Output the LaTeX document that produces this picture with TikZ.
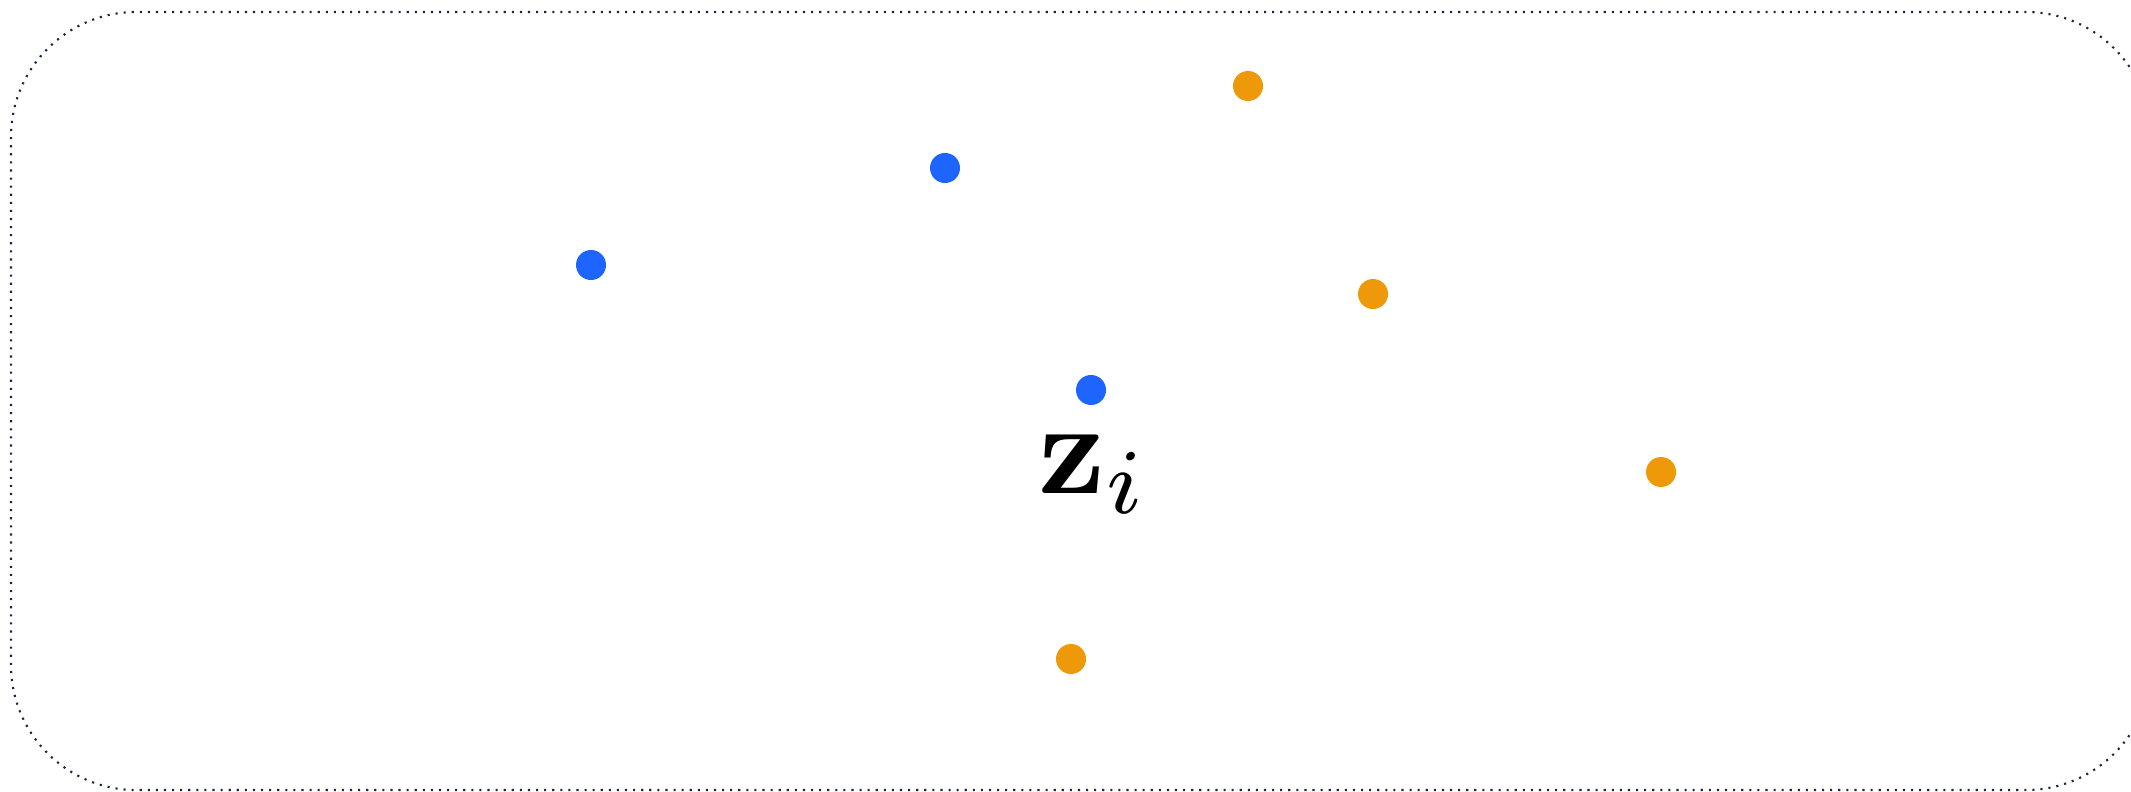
\documentclass[tikz,border=0pt]{standalone}
\usepackage{amsmath,amssymb}
\usepackage{tikz}
\usetikzlibrary{positioning}
\definecolor{ptblue}{RGB}{30,100,255}
\definecolor{ptorange}{RGB}{237,153,10}
\definecolor{framenavy}{RGB}{30,36,64}
\begin{document}
\begin{tikzpicture}[x=0.01cm, y=-0.01cm,
    bluept/.style={circle, fill=ptblue, minimum size=0.3cm, inner sep=0pt},
    orangept/.style={circle, fill=ptorange, minimum size=0.3cm, inner sep=0pt}]
    \useasboundingbox (0,0) rectangle (2131,791);
    \clip (0,0) rectangle (2131,791);

    % Khung bao
    \draw[framenavy, line width=0.6pt, dash pattern=on 0.6pt off 1.7pt, rounded corners=1.25cm]
        (11,12) rectangle (2151,790);

    % Điểm xanh
    \node[bluept] (b1) at (591,265) {};
    \node[bluept] (b2) at (945,168) {};
    \node[bluept] (b3) at (1091,390) {};

    % Điểm cam
    \node[orangept] (o1) at (1248,86) {};
    \node[orangept] (o2) at (1373,294) {};
    \node[orangept] (o3) at (1661,472) {};
    \node[orangept] (o4) at (1071,659) {};

    % Nhãn
    \node[scale=3.75, inner sep=0pt] (zi) at (1094,474) {$\mathbf{z}_i$};
\end{tikzpicture}
\end{document}
